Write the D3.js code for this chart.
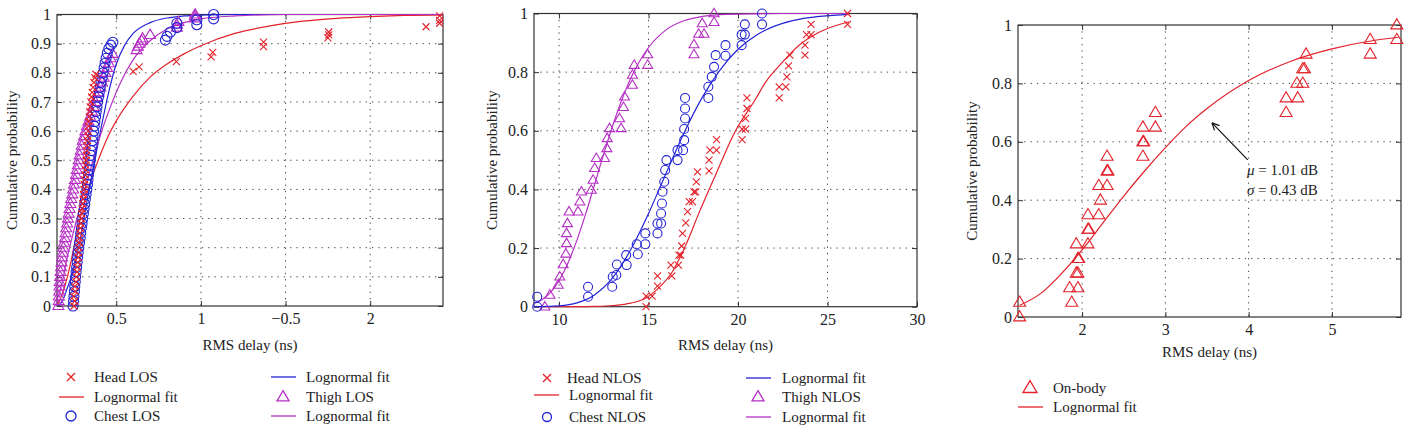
<!DOCTYPE html>
<html><head><meta charset="utf-8">
<script src="https://cdn.jsdelivr.net/npm/d3@7"></script>
<style>
html,body{margin:0;padding:0;background:#fff;}
svg{display:block;font-family:"Liberation Serif","DejaVu Serif",serif;}
</style></head>
<body><svg id="c" width="1417" height="433"></svg>
<script>
// ---------- DATA ----------
// Panel 1 (LOS): x tick values and their printed labels (as in the original figure)
const p1XTicks = [0.5, 1, 1.5, 2];
const p1XLabels = ["0.5", "1", "\u22120.5", "2"];
const p1YTicks = [0,0.1,0.2,0.3,0.4,0.5,0.6,0.7,0.8,0.9,1];
const p1YLabels = ["0","0.1","0.2","0.3","0.4","0.5","0.6","0.7","0.8","0.9","1"];

const headLOS = [[0.25,0],[0.255,0.017],[0.248,0.033],[0.258,0.05],[0.256,0.067],[0.262,0.083],[0.264,0.1],[0.268,0.117],[0.27,0.133],[0.272,0.15],[0.275,0.167],[0.276,0.183],[0.279,0.2],[0.282,0.217],[0.284,0.233],[0.286,0.25],[0.289,0.267],[0.291,0.283],[0.294,0.3],[0.296,0.317],[0.298,0.333],[0.301,0.35],[0.304,0.367],[0.306,0.383],[0.309,0.4],[0.311,0.417],[0.313,0.433],[0.316,0.45],[0.318,0.467],[0.32,0.483],[0.322,0.5],[0.324,0.517],[0.326,0.533],[0.328,0.55],[0.33,0.567],[0.332,0.583],[0.334,0.6],[0.336,0.617],[0.338,0.633],[0.341,0.65],[0.343,0.667],[0.346,0.683],[0.35,0.7],[0.354,0.717],[0.358,0.733],[0.363,0.75],[0.368,0.767],[0.374,0.783],[0.38,0.795],[0.60,0.805],[0.635,0.82],[0.855,0.838],[1.06,0.855],[1.07,0.87],[1.37,0.89],[1.37,0.905],[1.75,0.92],[1.755,0.93],[1.755,0.94],[2.33,0.958],[2.41,0.97],[2.41,0.98],[2.41,0.995]];
const chestLOS = [[0.245,0],[0.248,0.017],[0.25,0.033],[0.253,0.05],[0.255,0.067],[0.258,0.083],[0.26,0.1],[0.263,0.117],[0.266,0.133],[0.269,0.15],[0.272,0.167],[0.275,0.183],[0.279,0.2],[0.283,0.217],[0.287,0.233],[0.29,0.25],[0.294,0.267],[0.298,0.283],[0.302,0.3],[0.306,0.317],[0.31,0.333],[0.314,0.35],[0.318,0.367],[0.322,0.383],[0.326,0.4],[0.33,0.417],[0.333,0.433],[0.336,0.45],[0.34,0.467],[0.344,0.483],[0.347,0.5],[0.35,0.517],[0.353,0.533],[0.357,0.55],[0.36,0.567],[0.363,0.583],[0.367,0.6],[0.37,0.617],[0.374,0.633],[0.378,0.65],[0.382,0.667],[0.386,0.683],[0.39,0.7],[0.395,0.717],[0.4,0.733],[0.405,0.75],[0.41,0.767],[0.416,0.783],[0.422,0.8],[0.428,0.817],[0.434,0.833],[0.44,0.85],[0.447,0.867],[0.456,0.883],[0.468,0.895],[0.48,0.905],[0.79,0.912],[0.80,0.925],[0.82,0.94],[0.858,0.955],[0.858,0.97],[0.976,0.965],[0.976,0.982],[1.075,0.985],[1.075,1.0]];
const thighLOS = [[0.158,0],[0.16,0.017],[0.161,0.033],[0.163,0.05],[0.165,0.067],[0.166,0.083],[0.168,0.1],[0.171,0.117],[0.174,0.133],[0.177,0.15],[0.18,0.167],[0.184,0.183],[0.188,0.2],[0.192,0.217],[0.197,0.233],[0.201,0.25],[0.205,0.267],[0.21,0.283],[0.215,0.3],[0.219,0.317],[0.224,0.333],[0.229,0.35],[0.234,0.367],[0.24,0.383],[0.245,0.4],[0.25,0.417],[0.256,0.433],[0.262,0.45],[0.267,0.467],[0.273,0.483],[0.278,0.5],[0.284,0.517],[0.29,0.533],[0.296,0.55],[0.302,0.567],[0.31,0.583],[0.318,0.6],[0.327,0.617],[0.336,0.633],[0.346,0.65],[0.356,0.667],[0.366,0.683],[0.376,0.7],[0.386,0.717],[0.396,0.733],[0.406,0.75],[0.416,0.767],[0.426,0.783],[0.436,0.8],[0.446,0.817],[0.456,0.833],[0.466,0.85],[0.478,0.865],[0.62,0.878],[0.628,0.89],[0.637,0.9],[0.65,0.91],[0.655,0.918],[0.70,0.93],[0.858,0.955],[0.858,0.965],[0.867,0.975],[0.966,0.987],[0.966,0.995],[0.966,1.0]];
const headLOSFit = [[0.15,0],[0.18,0.04],[0.22,0.12],[0.26,0.23],[0.30,0.33],[0.35,0.43],[0.40,0.51],[0.45,0.58],[0.50,0.635],[0.60,0.72],[0.70,0.785],[0.80,0.83],[0.90,0.865],[1.0,0.893],[1.2,0.935],[1.4,0.96],[1.6,0.977],[1.8,0.987],[2.0,0.993],[2.2,0.997],[2.43,0.999]];
const chestLOSFit = [[0.15,0],[0.18,0.015],[0.21,0.06],[0.24,0.11],[0.27,0.18],[0.30,0.27],[0.33,0.37],[0.36,0.46],[0.40,0.58],[0.45,0.72],[0.50,0.83],[0.55,0.895],[0.60,0.935],[0.70,0.972],[0.80,0.988],[0.90,0.995],[1.0,0.998],[1.2,1.0],[2.43,1.0]];
const thighLOSFit = [[0.15,0.02],[0.18,0.08],[0.21,0.165],[0.25,0.26],[0.29,0.35],[0.33,0.43],[0.37,0.515],[0.42,0.61],[0.47,0.69],[0.52,0.76],[0.60,0.845],[0.70,0.91],[0.80,0.95],[0.90,0.972],[1.0,0.985],[1.2,0.995],[1.5,1.0],[2.43,1.0]];

// Panel 2 (NLOS)
const p2XTicks = [10, 15, 20, 25, 30];
const p2XLabels = ["10","15","20","25","30"];
const p2YTicks = [0,0.2,0.4,0.6,0.8,1];
const p2YLabels = ["0","0.2","0.4","0.6","0.8","1"];
const thighNLOS = [[9.21,0],[9.49,0.04],[9.95,0.074],[10.04,0.102],[10.23,0.144],[10.38,0.18],[10.42,0.216],[10.42,0.25],[10.47,0.284],[10.56,0.324],[11.06,0.324],[11.16,0.358],[11.25,0.392],[11.8,0.398],[11.9,0.432],[11.99,0.472],[12.08,0.506],[12.54,0.506],[12.67,0.54],[12.69,0.574],[12.82,0.608],[13.47,0.608],[13.38,0.642],[13.6,0.68],[13.66,0.716],[14.1,0.756],[14.1,0.79],[14.2,0.824],[14.95,0.86],[14.95,0.824],[17.54,0.86],[17.54,0.894],[17.8,0.93],[18.1,0.93],[18.0,0.966],[18.66,0.97],[18.66,1.0]];
const chestNLOS = [[8.78,0.034],[8.78,0],[11.62,0.068],[11.62,0.034],[12.97,0.068],[13.0,0.102],[13.2,0.108],[13.23,0.144],[13.75,0.176],[13.78,0.142],[14.34,0.213],[14.4,0.179],[14.82,0.25],[14.82,0.213],[15.5,0.25],[15.5,0.284],[15.7,0.284],[15.7,0.318],[15.75,0.352],[15.78,0.392],[15.88,0.426],[15.93,0.466],[16.0,0.5],[16.62,0.5],[16.62,0.534],[16.93,0.534],[16.99,0.568],[16.99,0.606],[17.04,0.642],[17.04,0.676],[17.04,0.712],[18.34,0.712],[18.34,0.75],[18.53,0.784],[18.66,0.818],[18.75,0.858],[19.3,0.856],[19.3,0.892],[20.2,0.892],[20.2,0.928],[20.38,0.928],[20.38,0.963],[21.34,0.963],[21.34,1.0]];
const headNLOS = [[14.86,0],[14.86,0.036],[15.2,0.036],[15.5,0.07],[15.5,0.105],[16.3,0.105],[16.25,0.142],[16.67,0.142],[16.7,0.176],[16.8,0.176],[16.85,0.207],[16.9,0.25],[17.08,0.286],[17.18,0.324],[17.27,0.358],[17.45,0.358],[17.54,0.392],[17.63,0.392],[17.67,0.426],[17.73,0.46],[18.38,0.463],[18.38,0.5],[18.43,0.534],[18.8,0.534],[18.8,0.57],[20.23,0.57],[20.23,0.606],[20.42,0.606],[20.42,0.642],[20.5,0.676],[20.5,0.712],[22.3,0.712],[22.3,0.75],[22.67,0.75],[22.73,0.784],[22.82,0.821],[22.9,0.858],[23.74,0.858],[23.74,0.892],[23.83,0.928],[24.08,0.928],[24.08,0.963],[26.12,0.963],[26.12,1.0]];
const thighNLOSFit = [[8.6,0.011],[9,0.022],[9.5,0.047],[10,0.089],[10.5,0.149],[11,0.227],[11.5,0.319],[12,0.42],[12.5,0.522],[13,0.618],[13.5,0.704],[14,0.778],[15,0.884],[16,0.945],[17,0.976],[18,0.99],[19,0.996],[21,0.999],[23,1],[26.2,1]];
const chestNLOSFit = [[8.6,0],[10,0.003],[11,0.013],[12,0.041],[13,0.099],[14,0.194],[15,0.318],[16,0.458],[17,0.595],[18,0.714],[19,0.808],[20,0.878],[21,0.925],[22,0.956],[23,0.975],[24,0.986],[26.2,0.997]];
const headNLOSFit = [[8.6,0],[11,0],[12,0.001],[13,0.004],[14,0.012],[14.86,0.03],[15.5,0.06],[16.34,0.12],[17.08,0.21],[17.82,0.32],[18.75,0.45],[19.86,0.6],[21,0.71],[21.53,0.765],[22.5,0.835],[23.38,0.89],[24.5,0.935],[26.2,0.972]];

// Panel 3 (on-body)
const p3XTicks = [2, 3, 4, 5];
const p3XLabels = ["2","3","4","5"];
const p3YTicks = [0,0.2,0.4,0.6,0.8,1];
const p3YLabels = ["0","0.2","0.4","0.6","0.8","1"];
const onBody = [[1.25,0],[1.25,0.05],[1.875,0.05],[1.85,0.1],[1.95,0.1],[1.93,0.15],[1.95,0.15],[1.95,0.2],[1.96,0.2],[1.93,0.25],[2.07,0.25],[2.07,0.3],[2.08,0.3],[2.07,0.35],[2.2,0.35],[2.22,0.4],[2.2,0.45],[2.3,0.45],[2.3,0.5],[2.31,0.5],[2.3,0.55],[2.73,0.55],[2.73,0.6],[2.74,0.6],[2.73,0.65],[2.88,0.65],[2.88,0.7],[4.45,0.7],[4.45,0.75],[4.59,0.75],[4.58,0.8],[4.65,0.8],[4.65,0.85],[4.67,0.85],[4.69,0.9],[5.46,0.9],[5.46,0.95],[5.78,0.95],[5.78,1.0]];
const onBodyFit = [[1.25,0.04],[1.5,0.08],[1.75,0.148],[2,0.23],[2.25,0.322],[2.5,0.414],[2.75,0.5],[3,0.58],[3.25,0.653],[3.5,0.714],[4,0.81],[4.5,0.875],[5,0.918],[5.5,0.947],[5.8,0.958]];
const annotLines = ["= 1.01 dB", "= 0.43 dB"];
const annotSymbols = ["\u03bc", "\u03c3"];

// legends
const legend1 = [["x","Head LOS","red"],["line","Lognormal fit","red"],["o","Chest LOS","blue"],["line","Lognormal fit","blue"],["tri","Thigh LOS","purple"],["line","Lognormal fit","purple"]];
const legend2 = [["x","Head NLOS","red"],["line","Lognormal fit","red"],["o","Chest NLOS","blue"],["line","Lognormal fit","blue"],["tri","Thigh NLOS","purple"],["line","Lognormal fit","purple"]];
const legend3 = [["tri","On-body","red"],["line","Lognormal fit","red"]];

// ---------- STYLE ----------
const COL = {red:"#e3222b", blue:"#2323d6", purple:"#b52fc4"};
const svg = d3.select("#c");
const TICKFONT = 16;
const TITLEFONT = 15;

function markerPath(type, s) {
  if (type === "x") { const h = s/2; return `M${-h},${-h}L${h},${h}M${-h},${h}L${h},${-h}`; }
  if (type === "tri") { const w = s, h = s*0.85; return `M0,${-h*0.62}L${w/2},${h*0.38}L${-w/2},${h*0.38}Z`; }
  return null;
}

function drawMarkers(g, data, x, y, type, color, size) {
  const sel = g.append("g").selectAll("path").data(data).enter();
  if (type === "o") {
    sel.append("circle").attr("cx", d => x(d[0])).attr("cy", d => y(d[1])).attr("r", size/2)
      .attr("fill","none").attr("stroke",color).attr("stroke-width",1.1);
  } else {
    sel.append("path").attr("transform", d => `translate(${x(d[0])},${y(d[1])})`)
      .attr("d", markerPath(type,size)).attr("fill","none").attr("stroke",color).attr("stroke-width",1.1);
  }
}

function panel(o) {
  const g = svg.append("g");
  const x = d3.scaleLinear().domain(o.xDomain).range([o.left, o.right]);
  const y = d3.scaleLinear().domain([0,1]).range([o.bottom, o.top]);
  const clipId = "clip" + o.id;
  svg.append("clipPath").attr("id", clipId).append("rect")
    .attr("x", o.left-8).attr("y", o.top-8).attr("width", o.right-o.left+16).attr("height", o.bottom-o.top+16);
  // grid
  const grid = g.append("g").attr("stroke","#444").attr("stroke-width",1).attr("stroke-dasharray","1.3,5");
  o.xTicks.forEach(v => { if (x(v) > o.left+1 && x(v) < o.right-1)
    grid.append("line").attr("x1",x(v)).attr("x2",x(v)).attr("y1",o.top).attr("y2",o.bottom); });
  o.yTicks.forEach(v => { if (y(v) > o.top+1 && y(v) < o.bottom-1)
    grid.append("line").attr("y1",y(v)).attr("y2",y(v)).attr("x1",o.left).attr("x2",o.right); });
  // axes
  const ax = (gen, tx, ty, labels, ticks, pad) => {
    const a = g.append("g").attr("transform",`translate(${tx},${ty})`)
      .call(gen.tickValues(ticks).tickFormat(labels ? ((d,i)=>labels[i]) : "").tickSizeInner(-5).tickSizeOuter(0).tickPadding(pad));
    a.select(".domain").remove();
    a.selectAll("line").attr("stroke","#333");
    a.selectAll("text").attr("font-family","Liberation Serif, serif").attr("font-size",TICKFONT).attr("fill","#222");
    return a;
  };
  ax(d3.axisBottom(x), 0, o.bottom, o.xLabels, o.xTicks, 7);
  ax(d3.axisTop(x), 0, o.top, null, o.xTicks, 3);
  ax(d3.axisLeft(y), o.left, 0, o.yLabels, o.yTicks, 6);
  ax(d3.axisRight(y), o.right, 0, null, o.yTicks, 3);
  // frame
  g.append("rect").attr("x",o.left).attr("y",o.top).attr("width",o.right-o.left).attr("height",o.bottom-o.top)
    .attr("fill","none").attr("stroke","#333").attr("stroke-width",1.2);
  // titles
  g.append("text").attr("x",(o.left+o.right)/2).attr("y",o.xTitleY).attr("text-anchor","middle")
    .attr("font-size",TITLEFONT).attr("fill","#222").text("RMS delay (ns)");
  g.append("text").attr("transform",`translate(${o.yTitleX},${(o.top+o.bottom)/2}) rotate(-90)`)
    .attr("text-anchor","middle").attr("font-size",TITLEFONT).attr("fill","#222").text("Cumulative probability");
  // content
  const cg = g.append("g").attr("clip-path",`url(#${clipId})`);
  const line = d3.line().x(d=>x(d[0])).y(d=>y(d[1])).curve(d3.curveMonotoneX);
  o.fits.forEach(f => cg.append("path").attr("d", line(f.data)).attr("fill","none")
    .attr("stroke", COL[f.color]).attr("stroke-width",1.2));
  o.series.forEach(s => drawMarkers(cg, s.data, x, y, s.type, COL[s.color], s.size));
  return {x, y, g};
}

function legend(items, cols) {
  items.forEach((it, i) => {
    const c = cols[i];
    const g = svg.append("g");
    const [type, label, color] = it;
    if (type === "line") {
      g.append("line").attr("x1",c.sx-12).attr("x2",c.sx+13).attr("y1",c.y).attr("y2",c.y)
        .attr("stroke",COL[color]).attr("stroke-width",1.3);
    } else if (type === "o") {
      g.append("circle").attr("cx",c.sx).attr("cy",c.y).attr("r",c.ms/2).attr("fill","none")
        .attr("stroke",COL[color]).attr("stroke-width",1.3);
    } else {
      g.append("path").attr("transform",`translate(${c.sx},${c.y})`).attr("d",markerPath(type,c.ms))
        .attr("fill","none").attr("stroke",COL[color]).attr("stroke-width",1.3);
    }
    g.append("text").attr("x",c.tx).attr("y",c.y+5).attr("font-size",15).attr("fill","#222").text(label);
  });
}

// ---------- PANELS ----------
panel({id:1, left:57, right:443, top:14.5, bottom:306, xDomain:[0.15,2.43],
  xTicks:p1XTicks, xLabels:p1XLabels, yTicks:p1YTicks, yLabels:p1YLabels,
  xTitleY:350, yTitleX:17,
  fits:[{data:headLOSFit,color:"red"},{data:chestLOSFit,color:"blue"},{data:thighLOSFit,color:"purple"}],
  series:[{data:thighLOS,type:"tri",color:"purple",size:11},{data:chestLOS,type:"o",color:"blue",size:10},{data:headLOS,type:"x",color:"red",size:7}]});

panel({id:2, left:534, right:917, top:13.5, bottom:306.7, xDomain:[8.6,30],
  xTicks:p2XTicks, xLabels:p2XLabels, yTicks:p2YTicks, yLabels:p2YLabels,
  xTitleY:350, yTitleX:497,
  fits:[{data:headNLOSFit,color:"red"},{data:chestNLOSFit,color:"blue"},{data:thighNLOSFit,color:"purple"}],
  series:[{data:thighNLOS,type:"tri",color:"purple",size:10},{data:chestNLOS,type:"o",color:"blue",size:9},{data:headNLOS,type:"x",color:"red",size:7}]});

const p3 = panel({id:3, left:1018, right:1401, top:25, bottom:317, xDomain:[1.23,5.83],
  xTicks:p3XTicks, xLabels:p3XLabels, yTicks:p3YTicks, yLabels:p3YLabels,
  xTitleY:357, yTitleX:977,
  fits:[{data:onBodyFit,color:"red"}],
  series:[{data:onBody,type:"tri",color:"red",size:12}]});

// annotation panel 3
(function(){
  const g = svg.append("g");
  const x0 = p3.x(3.99), y0 = p3.y(0.538), x1 = p3.x(3.56), y1 = p3.y(0.665);
  g.append("line").attr("x1",x0).attr("y1",y0).attr("x2",x1).attr("y2",y1).attr("stroke","#111").attr("stroke-width",1.2);
  const ang = Math.atan2(y0-y1, x0-x1), L = 8;
  [-0.45, 0.45].forEach(da => g.append("line").attr("x1",x1).attr("y1",y1)
    .attr("x2",x1+L*Math.cos(ang+da)).attr("y2",y1+L*Math.sin(ang+da)).attr("stroke","#111").attr("stroke-width",1.2));
  annotLines.forEach((t,i) => {
    const tx = g.append("text").attr("x",p3.x(3.98)).attr("y",p3.y(0.487) + i*20).attr("font-size",15).attr("fill","#222");
    tx.append("tspan").attr("font-style","italic").text(annotSymbols[i]);
    tx.append("tspan").text(" " + t);
  });
})();

// ---------- LEGENDS ----------
legend(legend1, [
  {sx:71,tx:94,y:377,ms:8},{sx:71,tx:94,y:397},{sx:71,tx:94,y:416,ms:10},
  {sx:283,tx:306,y:377},{sx:283,tx:306,y:397,ms:12},{sx:283,tx:306,y:416}]);
legend(legend2, [
  {sx:547,tx:567,y:378,ms:8},{sx:546,tx:569,y:395},{sx:547,tx:569,y:417,ms:9},
  {sx:758,tx:782,y:378},{sx:758,tx:782,y:397,ms:12},{sx:758,tx:782,y:417}]);
legend(legend3, [{sx:1030,tx:1053,y:388,ms:14},{sx:1030,tx:1053,y:407}]);
</script>
</body></html>
